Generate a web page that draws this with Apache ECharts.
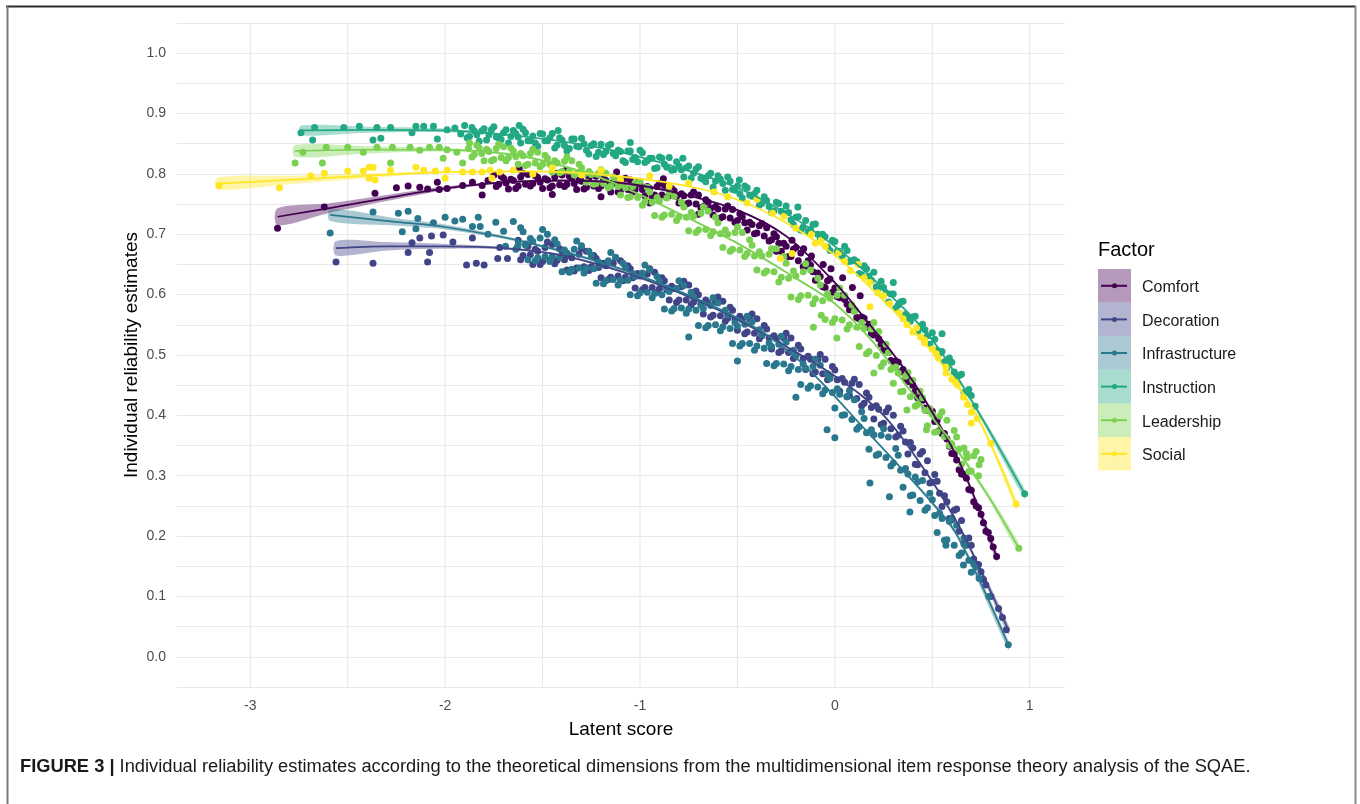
<!DOCTYPE html>
<html>
<head>
<meta charset="utf-8">
<script src="https://cdn.jsdelivr.net/npm/echarts@6/dist/echarts.min.js"></script>
<style>
html,body{margin:0;padding:0;background:#fff;}
#chart{width:1360px;height:804px;}
</style>
</head>
<body>
<div id="chart"></div>
<script>
// ---------------- DATA ----------------
const factors = ['Comfort','Decoration','Infrastructure','Instruction','Leadership','Social'];
const factorColors = ['#440154','#414487','#2A788E','#22A884','#7AD151','#FDE725'];
const xTicks = [-3,-2,-1,0,1];
const xGridValues = [-3,-2.5,-2,-1.5,-1,-0.5,0,0.5,1];
const xRange = [-3.376, 1.181];
const yRange = [-0.05, 1.05];

// scatter points [latent score, reliability]
const comfortPts = [
[-2.86,.71],[-2.62,.745],[-2.36,.768],[-2.25,.777],[-2.19,.78],[-2.13,.778],[-2.09,.775],[-2.04,.786],[-2.03,.774],[-1.99,.776],[-1.91,.781],[-1.86,.786],[-1.81,.765],[-1.81,.781],[-1.78,.789],
[-1.75,.798],[-1.725,.783],[-1.7,.793],[-1.675,.775],[-1.65,.789],[-1.625,.78],[-1.6,.801],[-1.575,.799],[-1.55,.784],[-1.525,.794],[-1.5,.776],[-1.475,.79],[-1.45,.78],[-1.425,.801],[-1.4,.798],[-1.375,.783],[-1.35,.793],[-1.325,.774],[-1.3,.788],[-1.275,.778],[-1.25,.798],[-1.225,.796],[-1.2,.78],[-1.175,.789],[-1.15,.77],[-1.125,.784],[-1.1,.773],[-1.075,.793],[-1.05,.79],[-1.025,.774],[-1,.783],[-.975,.764],[-.95,.776],[-.925,.765],[-.9,.784],[-.875,.781],[-.85,.764],[-.825,.772],[-.8,.752],[-.775,.764],[-.75,.752],[-.725,.77],[-.7,.765],[-.675,.746],[-.65,.753],[-.625,.732],[-.6,.742],[-.575,.729],[-.55,.747],[-.525,.741],[-.5,.723],[-.475,.729],[-.45,.707],[-.425,.716],[-.4,.702],[-.375,.718],[-.35,.711],[-.325,.691],[-.3,.696],[-.275,.672],[-.25,.68],[-.225,.663],[-.2,.678],[-.175,.669],[-.15,.647],[-.125,.649],[-.1,.624],[-.075,.63],[-.05,.612],[-.025,.626],[0,.611],[.025,.595],[.05,.592],[.075,.575],[.1,.574],[.125,.56],[.15,.561],[.175,.551],[.2,.533],[.225,.527],[.25,.508],[.275,.504],[.3,.488],[.325,.488],[.35,.476],[.375,.456],[.4,.45],[.425,.429],[.45,.425],[.475,.408],[.5,.407],[.525,.392],[.55,.37],[.575,.361],[.6,.337],[.625,.326],[.65,.303],[.675,.296],[.7,.276],[.725,.25],[.75,.236],[.775,.208],[.8,.196],[.83,.166],
[-.22,.69],[-.16,.676],[-.12,.664],[-.06,.65],[-.02,.643],[.04,.628],[.09,.612],[.13,.598],[-.3,.672],
[-1.62,.808],[-1.38,.806],[-1.12,.803],[-.88,.792],[-1.45,.766],[-1.2,.762],[-.95,.752],[-.7,.733],
[-1.7375,.779],[-1.7125,.796],[-1.6875,.785],[-1.6625,.791],[-1.6375,.776],[-1.6125,.795],[-1.5875,.783],[-1.5625,.78],[-1.5375,.797],[-1.5125,.786],[-1.4875,.792],[-1.4625,.777],[-1.4375,.795],[-1.4125,.782],[-1.3875,.779],[-1.3625,.796],[-1.3375,.784],[-1.3125,.79],[-1.2875,.775],[-1.2625,.792],[-1.2375,.78],[-1.2125,.776],[-1.1875,.792],[-1.1625,.78],[-1.1375,.786],[-1.1125,.77],[-1.0875,.787],[-1.0625,.774],[-1.0375,.77],[-1.0125,.786],[-.9875,.774],[-.9625,.779],[-.9375,.762],[-.9125,.779],[-.8875,.765],[-.8625,.761],[-.8375,.776],[-.8125,.763],[-.7875,.767],[-.7625,.75],[-.7375,.765],[-.7125,.75],[-.6875,.744],[-.6625,.757],[-.6375,.743],[-.6125,.746],[-.5875,.727],[-.5625,.742],[-.5375,.727],[-.5125,.72],[-.4875,.734],[-.4625,.719],[-.4375,.72],[-.4125,.701],[-.3875,.714],[-.3625,.697],[-.3375,.689],[-.3125,.701],[-.2875,.685],[-.2625,.685],[-.2375,.663],[-.2125,.675],[-.1875,.656],[-.1625,.646],[-.1375,.656],[-.1125,.638],[-.0875,.636],[-.0625,.613],[-.0375,.623],[-.0125,.604],
[.0125,.597],[.0375,.598],[.0625,.584],[.0875,.579],[.1125,.562],[.1375,.563],[.1625,.546],[.1875,.536],[.2125,.534],[.2375,.518],[.2625,.51],[.2875,.491],[.3125,.49],[.3375,.472],[.3625,.46],[.3875,.457],[.4125,.44],[.4375,.431],[.4625,.412],[.4875,.41],[.5125,.39],[.5375,.375],[.5625,.37],[.5875,.349],[.6125,.336],[.6375,.31],[.6625,.302],[.6875,.277],[.7125,.257],[.7375,.247],[.7625,.222],[.7875,.206],[.8125,.182]
];
const decorationPts = [
[-2.56,.654],[-2.37,.652],[-2.19,.67],[-2.17,.686],[-2.08,.67],[-2.09,.654],[-2.13,.694],[-2.07,.697],[-2.01,.699],[-1.96,.687],[-1.89,.649],[-1.84,.652],[-1.8,.649],[-1.86,.694],[-1.73,.66],[-1.68,.66],[-1.72,.678],[-1.63,.678],
[-1.625,.69],[-1.6,.665],[-1.575,.68],[-1.55,.65],[-1.525,.672],[-1.5,.655],[-1.475,.687],[-1.45,.683],[-1.425,.657],[-1.4,.672],[-1.375,.641],[-1.35,.661],[-1.325,.644],[-1.3,.676],[-1.275,.672],[-1.25,.646],[-1.225,.66],[-1.2,.628],[-1.175,.648],[-1.15,.629],[-1.125,.661],[-1.1,.656],[-1.075,.629],[-1.05,.643],[-1.025,.611],[-1,.631],[-.975,.612],[-.95,.643],[-.925,.637],[-.9,.61],[-.875,.623],[-.85,.591],[-.825,.61],[-.8,.591],[-.775,.622],[-.75,.616],[-.725,.588],[-.7,.6],[-.675,.568],[-.65,.586],[-.625,.566],[-.6,.596],[-.575,.589],[-.55,.561],[-.525,.574],[-.5,.541],[-.475,.559],[-.45,.538],[-.425,.568],[-.4,.56],[-.375,.532],[-.35,.543],[-.325,.51],[-.3,.527],[-.275,.507],[-.25,.536],[-.225,.528],[-.2,.499],[-.175,.51],[-.15,.476],[-.125,.493],[-.1,.472],[-.075,.501],[-.05,.493],[-.025,.464],[0,.475],[.025,.44],[.05,.455],[.075,.433],[.1,.46],[.125,.451],[.15,.42],[.175,.43],[.2,.394],[.225,.41],[.25,.387],[.275,.412],[.3,.4],[.325,.367],[.35,.374],[.375,.336],[.4,.346],[.425,.318],[.45,.34],[.475,.325],[.5,.289],[.525,.291],[.55,.249],[.575,.257],[.6,.227],[.625,.245],[.65,.226],[.675,.185],[.7,.185],[.725,.15],[.75,.141],[.775,.119],[.8,.1],[.88,.045],
[-1.6125,.658],[-1.5875,.684],[-1.5625,.666],[-1.5375,.675],[-1.5125,.65],[-1.4875,.678],[-1.4625,.657],[-1.4375,.651],[-1.4125,.676],[-1.3875,.658],[-1.3625,.665],[-1.3375,.639],[-1.3125,.667],[-1.2875,.646],[-1.2625,.64],[-1.2375,.665],[-1.2125,.645],[-1.1875,.652],[-1.1625,.625],[-1.1375,.652],[-1.1125,.631],[-1.0875,.623],[-1.0625,.648],[-1.0375,.628],[-1.0125,.635],[-.9875,.608],[-.9625,.634],[-.9375,.612],[-.9125,.604],[-.8875,.628],[-.8625,.608],[-.8375,.614],[-.8125,.587],[-.7875,.613],[-.7625,.591],[-.7375,.583],[-.7125,.606],[-.6875,.585],[-.6625,.591],[-.6375,.563],[-.6125,.588],[-.5875,.565],[-.5625,.556],[-.5375,.579],[-.5125,.559],[-.4875,.564],[-.4625,.535],[-.4375,.56],[-.4125,.536],[-.3875,.527],[-.3625,.549],[-.3375,.528],[-.3125,.532],[-.2875,.504],[-.2625,.528],[-.2375,.504],[-.2125,.494],[-.1875,.516],[-.1625,.494],[-.1375,.498],[-.1125,.469],[-.0875,.493],[-.0625,.469],[-.0375,.459],[-.0125,.481],[.0125,.459],[.0375,.461],[.0625,.431],[.0875,.453],[.1125,.428],[.1375,.416],[.1625,.437],[.1875,.413],[.2125,.416],[.2375,.385],[.2625,.406],[.2875,.378],[.3125,.364],[.3375,.382],[.3625,.356],[.3875,.355],[.4125,.319],[.4375,.336],[.4625,.305],[.4875,.288],[.5125,.302],[.5375,.271],[.5625,.267],[.5875,.229],[.6125,.243],[.6375,.208],[.6625,.187],[.6875,.197],[.7125,.162],[.7375,.153],[.7625,.128],[.84,.08],[.86,.065]
];
const infrastructurePts = [
[-2.59,.702],[-2.37,.737],[-2.24,.735],[-2.19,.738],[-2.22,.704],[-2.14,.726],[-2.15,.709],[-2.06,.719],[-2,.728],[-1.95,.722],[-1.91,.725],[-1.83,.728],[-1.82,.713],[-1.86,.713],[-1.78,.7],[-1.74,.72],[-1.7,.705],[-1.69,.68],
[-1.65,.721],[-1.625,.683],[-1.6,.704],[-1.575,.658],[-1.55,.688],[-1.525,.661],[-1.5,.708],[-1.475,.7],[-1.45,.663],[-1.425,.684],[-1.4,.638],[-1.375,.669],[-1.35,.642],[-1.325,.689],[-1.3,.681],[-1.275,.644],[-1.25,.665],[-1.225,.619],[-1.2,.649],[-1.175,.623],[-1.15,.67],[-1.125,.662],[-1.1,.624],[-1.075,.645],[-1.05,.6],[-1.025,.63],[-1,.603],[-.975,.649],[-.95,.641],[-.925,.602],[-.9,.622],[-.875,.576],[-.85,.605],[-.825,.577],[-.8,.623],[-.775,.615],[-.75,.576],[-.725,.596],[-.7,.549],[-.675,.577],[-.65,.549],[-.625,.595],[-.6,.586],[-.575,.547],[-.55,.566],[-.525,.519],[-.5,.548],[-.475,.519],[-.45,.564],[-.425,.555],[-.4,.515],[-.375,.534],[-.35,.486],[-.325,.514],[-.3,.486],[-.275,.531],[-.25,.521],[-.225,.481],[-.2,.499],[-.175,.451],[-.15,.478],[-.125,.449],[-.1,.493],[-.075,.483],[-.05,.442],[-.025,.461],[0,.412],[.025,.435],[.05,.401],[.075,.441],[.1,.426],[.125,.381],[.15,.395],[.175,.344],[.2,.368],[.225,.336],[.25,.378],[.275,.364],[.3,.321],[.325,.334],[.35,.281],[.375,.303],[.4,.268],[.425,.29],[.45,.292],[.475,.247],[.5,.26],[.525,.206],[.55,.229],[.575,.194],[.6,.23],[.625,.218],[.65,.172],[.675,.186],[.7,.14],[.725,.149],[.89,.02],
[.18,.288],[.28,.265],[.385,.24],[.57,.185],[.66,.152],[-.04,.376],[0,.363],[-.2,.43],[-.5,.49],[-.75,.53],
[-1.6375,.675],[-1.6125,.711],[-1.5875,.682],[-1.5625,.693],[-1.5375,.656],[-1.5125,.694],[-1.4875,.663],[-1.4625,.655],[-1.4375,.691],[-1.4125,.662],[-1.3875,.674],[-1.3625,.637],[-1.3375,.675],[-1.3125,.644],[-1.2875,.636],[-1.2625,.672],[-1.2375,.643],[-1.2125,.654],[-1.1875,.618],[-1.1625,.656],[-1.1375,.625],[-1.1125,.616],[-1.0875,.652],[-1.0625,.624],[-1.0375,.635],[-1.0125,.598],[-.9875,.636],[-.9625,.604],[-.9375,.595],[-.9125,.63],[-.8875,.6],[-.8625,.611],[-.8375,.573],[-.8125,.61],[-.7875,.578],[-.7625,.569],[-.7375,.604],[-.7125,.574],[-.6875,.583],[-.6625,.545],[-.6375,.582],[-.6125,.55],[-.5875,.54],[-.5625,.574],[-.5375,.544],[-.5125,.554],[-.4875,.515],[-.4625,.551],[-.4375,.519],[-.4125,.508],[-.3875,.542],[-.3625,.511],[-.3375,.52],[-.3125,.482],[-.2875,.518],[-.2625,.485],[-.2375,.474],[-.2125,.508],[-.1875,.476],[-.1625,.485],[-.1375,.445],[-.1125,.481],[-.0875,.447],[-.0625,.436],[-.0375,.469],[-.0125,.438],[.0125,.444],[.0375,.4],[.0625,.431],[.0875,.393],[.1125,.377],[.1375,.406],[.1625,.371],[.1875,.376],[.2125,.334],[.2375,.367],[.2625,.33],[.2875,.316],[.3125,.345],[.3375,.309],[.3625,.312],[.3875,.267],[.4125,.298],[.4375,.259],[.4625,.243],[.4875,.271],[.5125,.234],[.5375,.238],[.5625,.193],[.5875,.224],[.6125,.185],[.6375,.168],[.6625,.197],[.6875,.16],[.7125,.154],[.74,.13],[.79,.1]
];
const instructionPts = [
[-2.74,.868],[-2.67,.877],[-2.68,.856],[-2.52,.877],[-2.44,.879],[-2.37,.856],[-2.33,.859],[-2.35,.877],[-2.28,.877],[-2.17,.868],[-2.15,.879],[-2.11,.879],[-2.06,.879],[-2.04,.858],[-1.99,.873],[-1.95,.876],[-1.92,.866],
[-1.9,.88],[-1.875,.862],[-1.85,.871],[-1.825,.854],[-1.8,.875],[-1.775,.865],[-1.75,.878],[-1.725,.86],[-1.7,.868],[-1.675,.851],[-1.65,.872],[-1.625,.861],[-1.6,.874],[-1.575,.855],[-1.55,.863],[-1.525,.846],[-1.5,.866],[-1.475,.855],[-1.45,.867],[-1.425,.848],[-1.4,.856],[-1.375,.838],[-1.35,.858],[-1.325,.846],[-1.3,.859],[-1.275,.839],[-1.25,.847],[-1.225,.829],[-1.2,.849],[-1.175,.837],[-1.15,.849],[-1.125,.83],[-1.1,.837],[-1.075,.819],[-1.05,.838],[-1.025,.827],[-1,.839],[-.975,.819],[-.95,.826],[-.925,.809],[-.9,.828],[-.875,.816],[-.85,.827],[-.825,.807],[-.8,.813],[-.775,.795],[-.75,.813],[-.725,.801],[-.7,.812],[-.675,.791],[-.65,.797],[-.625,.778],[-.6,.797],[-.575,.784],[-.55,.795],[-.525,.774],[-.5,.78],[-.475,.76],[-.45,.777],[-.425,.763],[-.4,.773],[-.375,.751],[-.35,.756],[-.325,.736],[-.3,.753],[-.275,.738],[-.25,.747],[-.225,.724],[-.2,.728],[-.175,.707],[-.15,.723],[-.125,.708],[-.1,.717],[-.075,.693],[-.05,.696],[-.025,.673],[0,.688],[.025,.672],[.05,.68],[.075,.655],[.1,.658],[.125,.635],[.15,.648],[.175,.631],[.2,.637],[.225,.611],[.25,.612],[.275,.588],[.3,.601],[.325,.583],[.35,.589],[.375,.562],[.4,.563],[.425,.538],[.45,.551],[.475,.532],[.5,.537],[.525,.508],[.55,.506],[.575,.479],[.6,.488],[.625,.466],[.65,.468],[.675,.437],[.7,.433],[.72,.415],[.974,.27],
[-.49,.79],[-.19,.745],[-1.62,.88],[-1.42,.872],[-1.05,.852],[-.78,.826],[.3,.62],[.55,.535],
[-1.8875,.86],[-1.8625,.877],[-1.8375,.865],[-1.8125,.871],[-1.7875,.856],[-1.7625,.873],[-1.7375,.861],[-1.7125,.857],[-1.6875,.873],[-1.6625,.862],[-1.6375,.867],[-1.6125,.851],[-1.5875,.868],[-1.5625,.855],[-1.5375,.851],[-1.5125,.867],[-1.4875,.855],[-1.4625,.86],[-1.4375,.843],[-1.4125,.86],[-1.3875,.847],[-1.3625,.842],[-1.3375,.858],[-1.3125,.845],[-1.2875,.85],[-1.2625,.833],[-1.2375,.85],[-1.2125,.836],[-1.1875,.832],[-1.1625,.847],[-1.1375,.834],[-1.1125,.839],[-1.0875,.822],[-1.0625,.838],[-1.0375,.824],[-1.0125,.82],[-.9875,.835],[-.9625,.822],[-.9375,.826],[-.9125,.81],[-.8875,.826],[-.8625,.811],[-.8375,.806],[-.8125,.82],[-.7875,.807],[-.7625,.81],[-.7375,.793],[-.7125,.808],[-.6875,.793],[-.6625,.787],[-.6375,.801],[-.6125,.788],[-.5875,.791],[-.5625,.773],[-.5375,.788],[-.5125,.773],[-.4875,.767],[-.4625,.78],[-.4375,.765],[-.4125,.767],[-.3875,.748],[-.3625,.762],[-.3375,.746],[-.3125,.739],[-.2875,.751],[-.2625,.735],[-.2375,.736],[-.2125,.716],[-.1875,.729],[-.1625,.712],[-.1375,.704],[-.1125,.716],[-.0875,.7],[-.0625,.7],[-.0375,.679],[-.0125,.69],[.0125,.672],[.0375,.663],[.0625,.673],[.0875,.656],[.1125,.655],[.1375,.633],[.1625,.643],[.1875,.624],[.2125,.613],[.2375,.622],[.2625,.603],[.2875,.601],[.3125,.578],[.3375,.588],[.3625,.567],[.3875,.556],[.4125,.564],[.4375,.545],[.4625,.542],[.4875,.518],[.5125,.526],[.5375,.503],[.5625,.489],[.5875,.495],[.6125,.472],[.6375,.466],[.6625,.438],[.6875,.443]
];
const leadershipPts = [
[-2.77,.818],[-2.73,.836],[-2.63,.818],[-2.61,.844],[-2.5,.844],[-2.42,.836],[-2.35,.844],[-2.28,.818],[-2.27,.844],[-2.18,.844],[-2.13,.839],[-2.08,.844],[-2.03,.844],[-2.01,.826],[-1.99,.84],[-1.91,.818],[-1.94,.836],[-1.88,.842],
[-1.875,.851],[-1.85,.832],[-1.825,.843],[-1.8,.822],[-1.775,.837],[-1.75,.824],[-1.725,.849],[-1.7,.845],[-1.675,.827],[-1.65,.838],[-1.625,.816],[-1.6,.83],[-1.575,.816],[-1.55,.841],[-1.525,.836],[-1.5,.816],[-1.475,.826],[-1.45,.803],[-1.425,.818],[-1.4,.804],[-1.375,.828],[-1.35,.822],[-1.325,.801],[-1.3,.81],[-1.275,.786],[-1.25,.799],[-1.225,.784],[-1.2,.807],[-1.175,.801],[-1.15,.78],[-1.125,.789],[-1.1,.765],[-1.075,.777],[-1.05,.762],[-1.025,.785],
[-1,.787],[-.975,.754],[-.95,.77],[-.925,.731],[-.9,.755],[-.875,.732],[-.85,.77],[-.825,.763],[-.8,.729],[-.775,.745],[-.75,.706],[-.725,.73],[-.7,.707],[-.675,.745],[-.65,.738],[-.625,.704],[-.6,.719],[-.575,.678],[-.55,.7],[-.525,.675],[-.5,.712],[-.475,.703],[-.45,.668],[-.425,.682],[-.4,.641],[-.375,.664],[-.35,.639],[-.325,.676],
[-.3,.676],[-.275,.629],[-.25,.652],[-.225,.596],[-.2,.631],[-.175,.598],[-.15,.651],[-.125,.641],[-.1,.593],[-.075,.616],[-.05,.559],[-.025,.594],[0,.56],[.025,.611],[.05,.599],[.075,.55],[.1,.572],[.125,.514],[.15,.544],[.175,.506],[.2,.554],[.225,.539],[.25,.487],[.275,.504],
[.3,.453],[.325,.47],[.35,.44],[.375,.471],[.4,.458],[.425,.418],[.45,.429],[.475,.383],[.5,.402],[.525,.373],[.55,.406],[.575,.392],[.6,.353],[.625,.364],[.65,.319],[.675,.337],[.7,.308],[.725,.34],[.75,.327],[.944,.18],
[.68,.33],[.74,.318],[.47,.376],[.37,.409],[.2,.47],[.01,.528],[-.11,.546],[-.07,.566],
[-1.8625,.828],[-1.8375,.848],[-1.8125,.834],[-1.7875,.841],[-1.7625,.822],[-1.7375,.842],[-1.7125,.827],[-1.6875,.822],[-1.6625,.843],[-1.6375,.829],[-1.6125,.834],[-1.5875,.814],[-1.5625,.834],[-1.5375,.818],[-1.5125,.812],[-1.4875,.831],[-1.4625,.816],[-1.4375,.822],[-1.4125,.802],[-1.3875,.821],[-1.3625,.805],[-1.3375,.798],[-1.3125,.816],[-1.2875,.8],[-1.2625,.804],[-1.2375,.783],[-1.2125,.801],[-1.1875,.784],[-1.1625,.777],[-1.1375,.795],[-1.1125,.779],[-1.0875,.782],[-1.0625,.761],[-1.0375,.779],[-1.0125,.761],
[-.9875,.748],[-.9625,.778],[-.9375,.753],[-.9125,.761],[-.8875,.728],[-.8625,.76],[-.8375,.733],[-.8125,.723],[-.7875,.753],[-.7625,.728],[-.7375,.736],[-.7125,.703],[-.6875,.735],[-.6625,.708],[-.6375,.698],[-.6125,.728],[-.5875,.701],[-.5625,.707],[-.5375,.672],[-.5125,.703],[-.4875,.674],[-.4625,.663],[-.4375,.691],[-.4125,.664],[-.3875,.671],[-.3625,.636],[-.3375,.667],[-.3125,.638],
[-.2875,.621],[-.2625,.663],[-.2375,.627],[-.2125,.639],[-.1875,.592],[-.1625,.638],[-.1375,.599],[-.1125,.585],[-.0875,.627],[-.0625,.59],[-.0375,.602],[-.0125,.554],[.0125,.599],[.0375,.558],[.0625,.543],[.0875,.583],[.1125,.546],[.1375,.554],[.1625,.502],[.1875,.543],[.2125,.499],[.2375,.481],[.2625,.518],[.2875,.476],
[.3125,.48],[.3375,.439],[.3625,.465],[.3875,.431],[.4125,.415],[.4375,.44],[.4625,.408],[.4875,.411],[.5125,.372],[.5375,.399],[.5625,.365],[.5875,.35],[.6125,.375],[.6375,.344],[.6625,.346],[.6875,.307],[.7125,.333],[.7375,.3]
];
const socialPts = [
[-3.16,.781],[-2.85,.777],[-2.69,.797],[-2.62,.801],[-2.5,.805],[-2.42,.805],[-2.39,.811],[-2.37,.811],[-2.39,.793],[-2.36,.79],[-2.28,.806],[-2.15,.811],[-2.11,.806],[-2.05,.805],[-2,.793],[-1.99,.806],[-1.91,.803],[-1.86,.803],[-1.81,.803],[-1.77,.806],[-1.76,.793],[-1.72,.803],
[-1.65,.806],[-1.55,.8],[-1.45,.81],[-1.3,.798],[-1.2,.806],[-1.1,.79],[-.95,.797],[-.85,.78],[-.75,.785],[-.62,.77],[-.55,.762],[-.45,.752],[-.4,.758],[-.32,.735],[-.26,.73],[-.28,.66],[-.22,.668],[-.2,.71],[-.12,.7],[-.1,.685],[-.05,.68],[.02,.67],[.08,.64],[.12,.65],[.18,.62],[.18,.58],[.22,.603],[.28,.585],[.33,.57],[.37,.55],[.42,.545],[.46,.52],[.46,.525],[.5,.51],[.53,.495],[.57,.48],[.57,.47],[.6,.46],[.63,.45],[.66,.43],[.7,.405],[.7,.387],[.73,.395],[.8,.354],[.93,.253],
[-.07,.69],[.05,.655],[.15,.628],[.25,.598],[.35,.56],[.4,.538],[.44,.53],[.52,.502],[.62,.455],[.68,.418]
];

// smoothed fits [x, fit, lower, upper]
const comfortFit = [[-2.86,.729,.715,.743],[-2.6,.743,.735,.751],[-2.3,.76,.755,.765],[-2,.776,.773,.779],[-1.7,.786,.784,.788],[-1.4,.789,.787,.791],[-1.1,.785,.783,.787],[-.8,.768,.766,.77],[-.5,.74,.738,.742],[-.25,.697,.695,.699],[0,.62,.618,.622],[.13,.57,.568,.572],[.385,.464,.461,.467],[.59,.354,.35,.358],[.69,.285,.28,.29],[.83,.166,.158,.174]];
const decorationFit = [[-2.56,.677,.665,.689],[-2.3,.68,.673,.687],[-2,.68,.676,.684],[-1.7,.677,.675,.679],[-1.4,.665,.663,.667],[-1,.628,.626,.63],[-.6,.575,.573,.577],[-.3,.523,.521,.525],[0,.465,.463,.467],[.25,.4,.398,.402],[.47,.305,.302,.308],[.62,.227,.223,.231],[.74,.149,.144,.154],[.89,.045,.037,.053]];
const infrastructureFit = [[-2.59,.732,.722,.742],[-2.24,.72,.714,.726],[-2,.712,.708,.716],[-1.56,.685,.683,.687],[-1.04,.636,.634,.638],[-.45,.553,.551,.555],[-.18,.49,.488,.492],[.16,.375,.373,.377],[.5,.255,.252,.258],[.63,.2,.196,.204],[.89,.02,.012,.028]];
const instructionFit = [[-2.74,.872,.864,.88],[-2.4,.873,.868,.878],[-2,.872,.869,.875],[-1.6,.862,.861,.863],[-1.2,.843,.842,.844],[-.8,.81,.809,.811],[-.5,.777,.776,.778],[-.25,.735,.734,.736],[0,.68,.679,.681],[.25,.61,.608,.612],[.5,.525,.522,.528],[.71,.42,.416,.424],[.974,.27,.262,.278]];
const leadershipFit = [[-2.77,.838,.828,.848],[-2.4,.84,.834,.846],[-2,.84,.837,.843],[-1.6,.829,.827,.831],[-1.2,.793,.791,.795],[-.9,.75,.748,.752],[-.5,.685,.683,.687],[-.2,.627,.625,.629],[0,.585,.583,.587],[.2,.52,.518,.522],[.385,.442,.439,.445],[.59,.359,.355,.363],[.78,.27,.265,.275],[.944,.18,.172,.188]];
const socialFit = [[-3.17,.784,.774,.794],[-2.8,.79,.783,.797],[-2.4,.797,.793,.801],[-2,.803,.801,.805],[-1.5,.804,.802,.806],[-1,.792,.79,.794],[-.6,.768,.767,.769],[-.3,.728,.727,.729],[0,.665,.663,.667],[.25,.59,.588,.592],[.5,.505,.502,.508],[.7,.415,.41,.42],[.81,.345,.339,.351],[.93,.253,.244,.262]];

const seriesPoints = [comfortPts, decorationPts, infrastructurePts, instructionPts, leadershipPts, socialPts];
const seriesFits = [comfortFit, decorationFit, infrastructureFit, instructionFit, leadershipFit, socialFit];

// ---------------- CHART ----------------
const FONT = '"Liberation Sans", Arial, Helvetica, sans-serif';
const chart = echarts.init(document.getElementById('chart'), null, {renderer: 'canvas'});

const series = [];
series.push({
  type: 'custom', silent: true, z: 0,
  data: xGridValues.map(v => [v, 0.5]),
  renderItem: function (params, api) {
    const cs = params.coordSys;
    const p = api.coord([api.value(0), 0.5]);
    return {type: 'line', shape: {x1: p[0], y1: cs.y, x2: p[0], y2: cs.y + cs.height},
      style: {stroke: '#e9e9e9', lineWidth: 1.2}};
  }
});
factors.forEach((f, i) => {
  series.push({
    name: f, type: 'scatter', z: 2, data: seriesPoints[i],
    symbol: 'circle', symbolSize: 7, itemStyle: {color: factorColors[i], opacity: 1},
    silent: true
  });
});
factors.forEach((f, i) => {
  const fit = seriesFits[i];
  series.push({
    type: 'custom', z: 3, silent: true,
    data: [[fit[0][0], fit[0][1]]],
    renderItem: function (params, api) {
      const top = fit.map(d => api.coord([d[0], d[3]]));
      const bot = fit.slice().reverse().map(d => api.coord([d[0], d[2]]));
      return {type: 'polygon', shape: {points: top.concat(bot), smooth: 0.3},
        style: {fill: factorColors[i], opacity: 0.4}};
    }
  });
});
factors.forEach((f, i) => {
  series.push({
    type: 'line', z: 4, silent: true, data: seriesFits[i].map(d => [d[0], d[1]]),
    showSymbol: false, smooth: 0.35, lineStyle: {color: factorColors[i], width: 1.7}
  });
});

// legend (manual, ggplot style)
const graphics = [];
const legX = 1098, legY = 269, keyH = 33.6, keyW = 33;
graphics.push({type: 'text', left: legX, top: 240, style: {text: 'Factor', font: '20px ' + FONT, fill: '#000'}});
factors.forEach((f, i) => {
  const y0 = legY + i * keyH;
  const c = factorColors[i];
  graphics.push({type: 'rect', shape: {x: legX, y: y0, width: keyW, height: keyH}, style: {fill: c, opacity: 0.4}});
  graphics.push({type: 'line', shape: {x1: legX + 3, y1: y0 + keyH / 2, x2: legX + keyW - 4, y2: y0 + keyH / 2}, style: {stroke: c, lineWidth: 2}});
  graphics.push({type: 'circle', shape: {cx: legX + keyW / 2, cy: y0 + keyH / 2, r: 2.5}, style: {fill: c}});
  graphics.push({type: 'text', x: 1142, y: y0 + keyH / 2 + 2, style: {text: f, font: '16px ' + FONT, fill: '#1a1a1a', verticalAlign: 'middle'}});
});
// frame
graphics.push({type: 'line', shape: {x1: 6, y1: 6.5, x2: 1356, y2: 6.5}, style: {stroke: '#2b2b2b', lineWidth: 2}});
graphics.push({type: 'line', shape: {x1: 7.5, y1: 6, x2: 7.5, y2: 804}, style: {stroke: '#7a7a7a', lineWidth: 2}});
graphics.push({type: 'line', shape: {x1: 1355.5, y1: 6, x2: 1355.5, y2: 804}, style: {stroke: '#8a8a8a', lineWidth: 2}});
// caption
graphics.push({type: 'text', x: 20, y: 767, style: {
  text: '{b|FIGURE 3 |} Individual reliability estimates according to the theoretical dimensions from the multidimensional item response theory analysis of the SQAE.',
  font: '18.3px ' + FONT, fill: '#1a1a1a', verticalAlign: 'middle',
  rich: {b: {fontWeight: 'bold', fontSize: 18.3, fontFamily: FONT, fill: '#1a1a1a'}}
}});

const option = {
  animation: false,
  backgroundColor: '#fff',
  grid: {left: 177, right: 295, top: 23, bottom: 117},
  xAxis: {
    type: 'value', min: xRange[0], max: xRange[1],
    axisLine: {show: false}, axisTick: {show: false}, splitLine: {show: false},
    axisLabel: {customValues: xTicks, formatter: v => String(v), color: '#4d4d4d', fontSize: 14, fontFamily: FONT, margin: 12},
    name: 'Latent score', nameLocation: 'middle', nameGap: 33,
    nameTextStyle: {fontSize: 19, fontFamily: FONT, color: '#000'}
  },
  yAxis: {
    type: 'value', min: yRange[0], max: yRange[1], interval: 0.05,
    axisLine: {show: false}, axisTick: {show: false},
    splitLine: {show: true, lineStyle: {color: '#e9e9e9', width: 1.2}},
    axisLabel: {
      formatter: v => { const k = Math.round(v * 100); return (k % 10 === 0) ? (k / 100).toFixed(1) : ''; },
      color: '#4d4d4d', fontSize: 14, fontFamily: FONT, margin: 11
    },
    name: 'Individual reliability estimates', nameLocation: 'middle', nameGap: 36, nameRotate: 90,
    nameMoveOverlap: false,
    nameTextStyle: {fontSize: 19, fontFamily: FONT, color: '#000'}
  },
  graphic: graphics,
  series: series
};
chart.setOption(option);
</script>
</body>
</html>
